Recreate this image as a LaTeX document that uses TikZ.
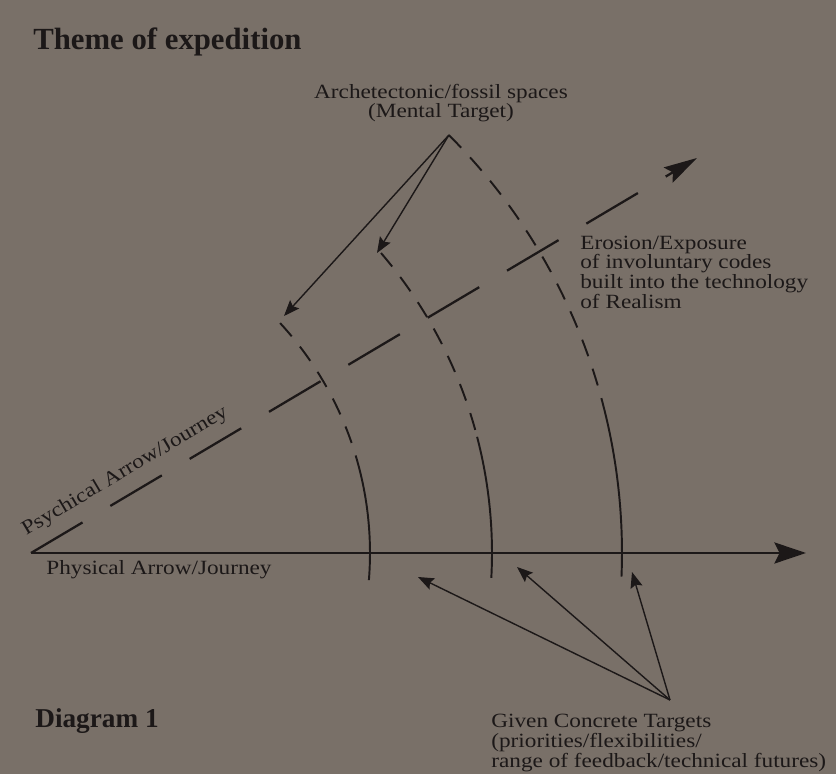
\documentclass[tikz,border=0pt]{standalone}
\usepackage{fontspec}
\setmainfont{Liberation Serif}
\newfontfamily\labelfont{Liberation Serif}[FakeStretch=1.15]
\usetikzlibrary{arrows.meta}

\definecolor{paper}{RGB}{121,112,104}
\definecolor{ink}{RGB}{28,24,24}

\tikzset{
  annot/.style={font=\labelfont\fontsize{11.5}{11.2}\selectfont, text=ink, inner sep=0pt, align=left},
  heading/.style={font=\bfseries\fontsize{17.5}{20}\selectfont, text=ink, inner sep=0pt},
  axisline/.style={draw=ink, line width=1.5pt, -{Stealth[length=18pt,width=12pt,inset=3pt]}},
  psyline/.style={draw=ink, line width=1.3pt, dash pattern=on 34.1pt off 18.4pt, -{Stealth[length=19pt,width=10pt,inset=3pt]}},
  arcdash/.style={draw=ink, line width=1.1pt, dash pattern=on 10pt off 7.5pt},
  arcline/.style={draw=ink, line width=1.1pt},
  pointer/.style={draw=ink, line width=0.8pt, -{Stealth[length=9pt,width=7pt,inset=1.5pt]}}
}

\begin{document}
\begin{tikzpicture}[x=0.02cm, y=0.02cm]
\useasboundingbox (0,0) rectangle (836,774);
\fill[paper] (0,0) rectangle (836,774);

% the two journeys
\coordinate (O) at (31,221);
\coordinate (physend) at (806,221);
\coordinate (psyend) at (697,616);
\draw[axisline] (O) -- (physend);
\draw[psyline] (O) -- (psyend);

% targets, drawn round the common start
\draw[arcdash] (O) ++(42.7:339) arc[start angle=42.7, end angle=15.4, radius=339];
\draw[arcline] (O) ++(15.4:339) arc[start angle=15.4, end angle=-4.6, radius=339];
\draw[arcdash] (O) ++(40.6:461) arc[start angle=40.6, end angle=14.6, radius=461];
\draw[arcline] (O) ++(14.6:461) arc[start angle=14.6, end angle=-3.1, radius=461];
\draw[arcdash] (O) ++(45:591) arc[start angle=45, end angle=15, radius=591];
\draw[arcline] (O) ++(15:591) arc[start angle=15, end angle=-2.3, radius=591];

% pointers
\path (O) ++(45:591) coordinate (mental);
\coordinate (tipA) at (284,458);
\coordinate (tipB) at (377,521);
\draw[pointer] (mental) -- (tipA);
\draw[pointer] (mental) -- (tipB);

\coordinate (concrete) at (670,74);
\coordinate (tipC) at (418,197);
\coordinate (tipD) at (517,207);
\coordinate (tipE) at (632,202);
\draw[pointer] (concrete) -- (tipC);
\draw[pointer] (concrete) -- (tipD);
\draw[pointer] (concrete) -- (tipE);

% texts
\node[heading, anchor=base west] (title) at (33,724) {Theme of expedition};
\node[heading, font=\bfseries\fontsize{15.5}{18}\selectfont, anchor=base west] (diagram) at (35,46) {Diagram 1};
\node[annot, align=center] (mentallbl) at (441,671) {Archetectonic/fossil spaces\\(Mental Target)};
\node[annot, anchor=west] (erosion) at (580,502) {Erosion/Exposure\\of involuntary codes\\built into the technology\\of Realism};
\node[annot, anchor=west] (given) at (491,31) {Given Concrete Targets\\(priorities/flexibilities/\\range of feedback/technical futures)};
\node[annot, anchor=west] (physlbl) at (46,204) {Physical Arrow/Journey};
\node[annot, anchor=base west, rotate=30.7] (psylbl) at (26,238) {Psychical Arrow/Journey};
\end{tikzpicture}
\end{document}
